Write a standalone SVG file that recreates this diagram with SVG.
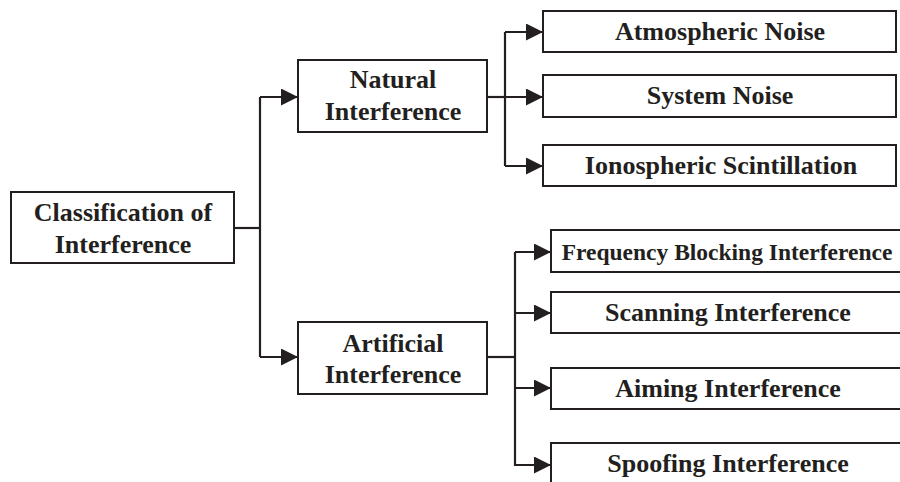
<svg xmlns="http://www.w3.org/2000/svg" width="900" height="482" viewBox="0 0 900 482">
  <style>
    .box { fill: #ffffff; stroke: #231f20; stroke-width: 2; }
    .lbl { font-family: "Liberation Serif", "Times New Roman", serif; font-weight: bold; font-size: 26px; fill: #231f20; text-anchor: middle; }
    .sm { font-size: 23.5px; }
    .wire { fill: none; stroke: #231f20; stroke-width: 2.2; }
  </style>
  <defs>
    <marker id="arr" viewBox="0 0 17 17" refX="16" refY="8.5" markerWidth="17" markerHeight="17" markerUnits="userSpaceOnUse" orient="auto">
      <path d="M0,0 L17,8.5 L0,17 z" fill="#231f20"/>
    </marker>
  </defs>
  <rect width="900" height="482" fill="#ffffff"/>

  <g id="connectors">
    <path class="wire" d="M234,228 H260"/>
    <path class="wire" d="M260,97 V357"/>
    <path class="wire" d="M260,97 H297" marker-end="url(#arr)"/>
    <path class="wire" d="M260,357 H297" marker-end="url(#arr)"/>

    <path class="wire" d="M487,97 H505"/>
    <path class="wire" d="M505,32 V166"/>
    <path class="wire" d="M505,32 H542" marker-end="url(#arr)"/>
    <path class="wire" d="M505,97 H542" marker-end="url(#arr)"/>
    <path class="wire" d="M505,166 H542" marker-end="url(#arr)"/>

    <path class="wire" d="M487,357 H515"/>
    <path class="wire" d="M515,252 V466"/>
    <path class="wire" d="M515,252 H550" marker-end="url(#arr)"/>
    <path class="wire" d="M515,313 H550" marker-end="url(#arr)"/>
    <path class="wire" d="M515,388 H550" marker-end="url(#arr)"/>
    <path class="wire" d="M515,465 H550" marker-end="url(#arr)"/>
  </g>

  <g id="classification">
    <rect class="box" x="11" y="192" width="223" height="71"/>
    <text class="lbl" x="123" y="221">Classification of</text>
    <text class="lbl" x="123" y="253">Interference</text>
  </g>

  <g id="natural">
    <rect class="box" x="298" y="60" width="189" height="72"/>
    <text class="lbl" x="393" y="88">Natural</text>
    <text class="lbl" x="393" y="120">Interference</text>
  </g>

  <g id="artificial">
    <rect class="box" x="298" y="322" width="189" height="72"/>
    <text class="lbl" x="393" y="352">Artificial</text>
    <text class="lbl" x="393" y="383">Interference</text>
  </g>

  <g id="atmospheric">
    <rect class="box" x="543" y="11" width="353" height="41"/>
    <text class="lbl" x="720" y="40">Atmospheric Noise</text>
  </g>

  <g id="system">
    <rect class="box" x="543" y="75" width="353" height="42"/>
    <text class="lbl" x="720" y="104">System Noise</text>
  </g>

  <g id="ionospheric">
    <rect class="box" x="543" y="145" width="353" height="41"/>
    <text class="lbl" x="721" y="174">Ionospheric Scintillation</text>
  </g>

  <g id="frequency">
    <rect class="box" x="551" y="230" width="360" height="42"/>
    <text class="lbl sm" x="727" y="260">Frequency Blocking Interference</text>
  </g>

  <g id="scanning">
    <rect class="box" x="551" y="292" width="360" height="41"/>
    <text class="lbl" x="728" y="321">Scanning Interference</text>
  </g>

  <g id="aiming">
    <rect class="box" x="551" y="368" width="360" height="41"/>
    <text class="lbl" x="728" y="397">Aiming Interference</text>
  </g>

  <g id="spoofing">
    <rect class="box" x="551" y="443" width="360" height="50"/>
    <text class="lbl" x="728" y="472">Spoofing Interference</text>
  </g>
</svg>
